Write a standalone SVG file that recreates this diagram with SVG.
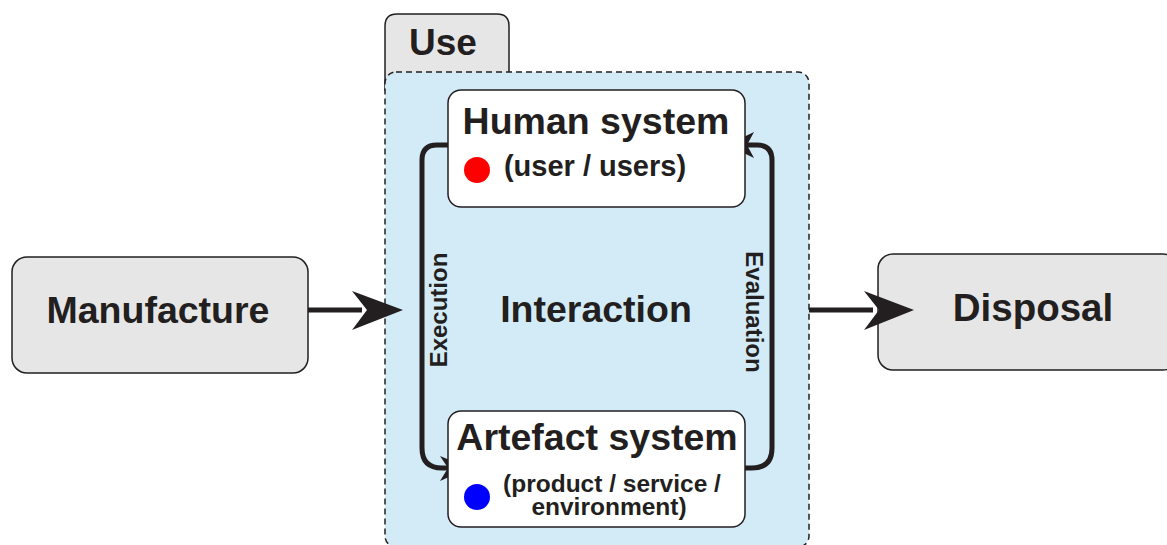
<svg xmlns="http://www.w3.org/2000/svg" width="1167" height="545" viewBox="0 0 1167 545">
<style>
.t{font-family:"Liberation Sans",Arial,sans-serif;font-weight:bold;fill:#231f20}
.box{fill:#e6e6e6;stroke:#231f20;stroke-width:1.5}
.inner{fill:#ffffff;stroke:#231f20;stroke-width:1.5}
.ln{fill:none;stroke:#231f20;stroke-width:5}
.hd{fill:#231f20;stroke:none}
</style>
<rect width="1167" height="545" fill="#ffffff"/>
<g id="use">
<path class="box" d="M385 90 L385 26 Q385 14 397 14 L497 14 Q509 14 509 26 L509 90 Z"/>
<text class="t" x="443" y="55" font-size="37" text-anchor="middle">Use</text>
<rect x="385" y="72" width="424" height="475" rx="11" fill="#d3ebf7" stroke="#231f20" stroke-width="1.5" stroke-dasharray="6,4"/>
<text class="t" x="596" y="322" font-size="37.5" text-anchor="middle">Interaction</text>
</g>
<g id="manufacture">
<rect class="box" x="12" y="257" width="296" height="116" rx="15"/>
<text class="t" x="158" y="323" font-size="37.5" text-anchor="middle">Manufacture</text>
</g>
<g id="disposal">
<rect class="box" x="878" y="254" width="300" height="116" rx="15"/>
<text class="t" x="1033" y="321" font-size="38.5" text-anchor="middle">Disposal</text>
</g>
<g id="connectors">
<path class="ln" d="M308 310 L362 310"/>
<path class="hd" d="M403 310 L352 291 L367 310 L352 330 Z"/>
<path class="ln" d="M809 310 L873 310"/>
<path class="hd" d="M914 310 L864 291 L879 310 L864 330 Z"/>
<path class="ln" d="M448 145 L437 145 Q422 145 422 160 L422 448 Q422 468 442 468 L452 468"/>
<path class="hd" d="M469 468 L440 456 L448 468 L440 481 Z"/>
<path class="ln" d="M745 468 L752 468 Q772 468 772 448 L772 160 Q772 145 757 145 L745 145"/>
<path class="hd" d="M727 145 L754 132 L747 145 L754 158 Z"/>
<text class="t" transform="translate(447 310) rotate(-90)" font-size="24" text-anchor="middle">Execution</text>
<text class="t" transform="translate(746 312) rotate(90)" font-size="24" text-anchor="middle">Evaluation</text>
</g>
<g id="human">
<rect class="inner" x="448" y="90" width="297" height="117" rx="13"/>
<text class="t" x="596" y="134" font-size="37.5" text-anchor="middle">Human system</text>
<circle cx="477" cy="170" r="13" fill="#ff0000"/>
<text class="t" x="595" y="176" font-size="29" text-anchor="middle">(user / users)</text>
</g>
<g id="artefact">
<rect class="inner" x="448" y="411" width="297" height="116" rx="13"/>
<text class="t" x="597" y="450" font-size="37.5" text-anchor="middle">Artefact system</text>
<circle cx="477" cy="497" r="13" fill="#0000ff"/>
<text class="t" x="612" y="492" font-size="24.5" text-anchor="middle">(product / service /</text>
<text class="t" x="609" y="515" font-size="24.5" text-anchor="middle">environment)</text>
</g>
</svg>
